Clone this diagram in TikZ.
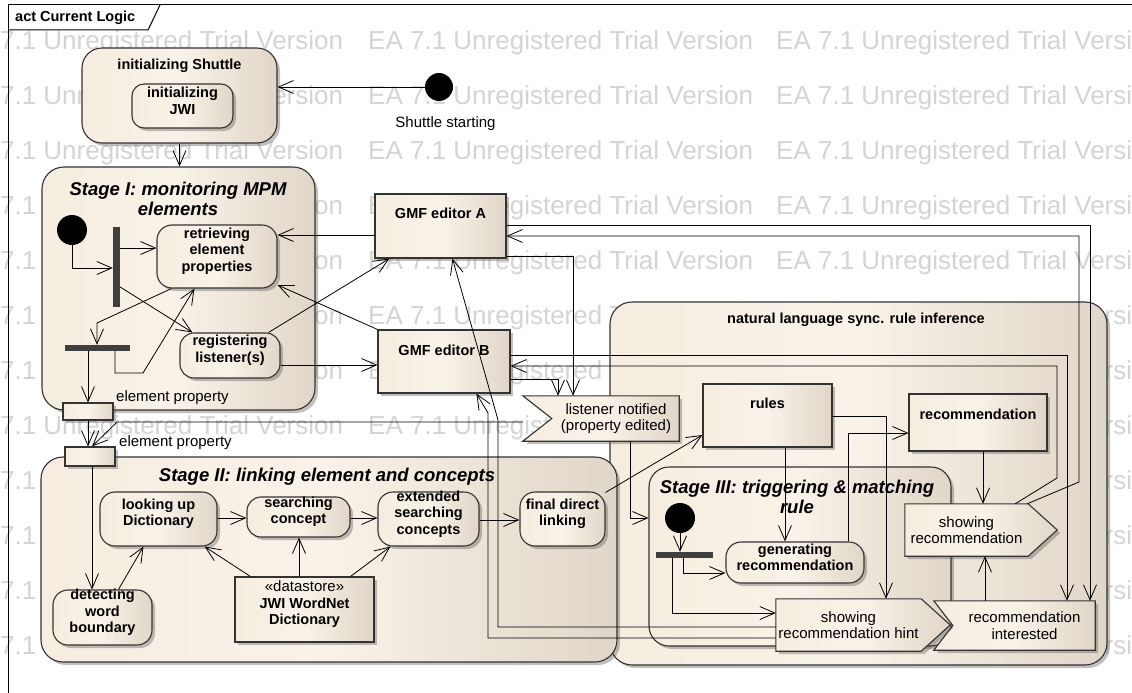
\documentclass[tikz,border=0pt]{standalone}
\usepackage{fontspec}
\setmainfont{Liberation Sans}
\usetikzlibrary{arrows.meta,shadows,calc,fit}
\definecolor{fillL}{HTML}{F6EDE0}
\definecolor{fillM}{HTML}{F9F2E8}
\definecolor{fillR}{HTML}{E0D6C8}
\definecolor{wmc}{HTML}{D4D4D4}
\definecolor{barc}{HTML}{3F3F3F}
\definecolor{edgec}{HTML}{333333}
\newcommand\myFB{\fontsize{14.5}{16.5}\selectfont\bfseries}
\newcommand\myFR{\fontsize{15}{16.5}\selectfont\mdseries}
\newcommand\myFT{\fontsize{18.5}{20.5}\selectfont\bfseries\itshape}
\newcommand\myFW{\fontsize{26}{30}\selectfont}
\tikzset{
  shd/.style={drop shadow={shadow xshift=3pt,shadow yshift=-3pt,opacity=0.35,fill=black!70}},
  grad/.style={left color=fillL,right color=fillR,middle color=fillM},
  ebox/.style={draw=edgec,line width=1.1pt,grad,shd,inner sep=0pt},
  act/.style={ebox,rounded corners=#1,align=center,font=\myFB},
  act/.default=14pt,
  obj/.style={ebox,align=center,font=\myFB},
  anch/.style={inner sep=0pt,draw=none},
  sig/.style={draw=edgec,line width=1.1pt,grad,shd},
  barn/.style={fill=barc,draw=none,inner sep=0pt},
  initnode/.style={circle,fill=black,draw=none,inner sep=0pt,minimum size=#1},
  ttl/.style={font=\myFB,inner sep=0pt},
  regt/.style={font=\myFR,inner sep=0pt,align=center},
  stt/.style={font=\myFT,inner sep=0pt,align=center},
  arr/.style={draw=black,line width=0.8pt,-{Straight Barb[length=15pt,width=13pt]}},
  wmk/.style={font=\myFW,text=wmc,anchor=west,inner sep=0pt},
}
\begin{document}
\begin{tikzpicture}[x=1pt,y=-1pt]
\useasboundingbox (0,0) rectangle (1132,693);
\clip (0,0) rectangle (1132,693);
\fill[white] (0,0) rectangle (1132,693);
% watermark
\foreach \r in {0,...,11}{
  \foreach \c/\xx in {0/-42,1/368,2/776}{
    \node[wmk,name=wm-\r-\c] at (\xx,{43+55*\r}) {EA 7.1 Unregistered Trial Version};
  }
}
% frame
\draw[line width=1pt] (8,693) -- (8,5) -- (1132,5);
\draw[line width=1pt] (8,30) -- (148,30) -- (160,5);
\node[ttl,anchor=west] (hdr) at (15,18) {act Current Logic};

% containers
\node[act=20pt,fit={(82,48)(277,143)}] (initS) {};
\node[ttl] (initSt) at (179.5,66) {initializing Shuttle};
\node[act=12pt,fit={(132,84)(233,128)}] (initJ) {initializing\\JWI};
\node[initnode=28pt] (s0) at (439,87) {};
\node[regt] (s0l) at (445.5,124) {Shuttle starting};

\node[act=22pt,fit={(42,167)(315,410)}] (st1) {};
\node[stt] (st1t) at (178,199) {Stage I: monitoring MPM\\elements};
\node[act=22pt,fit={(610,302)(1107,665)}] (nl) {};
\node[ttl] (nlt) at (856,320) {natural language sync. rule inference};
\node[act=22pt,fit={(41,457)(617,662)}] (st2) {};
\node[stt] (st2t) at (327,477) {Stage II: linking element and concepts};
\node[act=20pt,fit={(649,467)(951,646)}] (st3) {};
\node[stt] (st3t) at (797,497) {Stage III: triggering \& matching\\rule};

% stage I
\node[act=15pt,fit={(157,225)(277,288)}] (retr) {retrieving\\element\\properties};
\node[act=14pt,fit={(180,333)(280,378)}] (reg) {registering\\listener(s)};
\node[barn,fit={(113,227)(120,307)}] (f1) {};
\node[barn,fit={(65,345)(130,351)}] (j1) {};
\node[initnode=30pt] (s1) at (72,230) {};
\node[obj,fit={(63,403)(113,420)}] (pin1) {};
\node[regt,anchor=west] (pin1l) at (116,398) {element property};
\node[obj,fit={(65,447)(115,466)}] (pin2) {};
\node[regt,anchor=west] (pin2l) at (119,443) {element property};

% GMF editors
\node[obj,fit={(375,194)(506,258)}] (gmfA) {};
\node[ttl] (gmfAt) at (440.5,213) {GMF editor A};
\node[obj,fit={(378,330)(510,393)}] (gmfB) {};
\node[ttl] (gmfBt) at (444,350) {GMF editor B};

% stage II
\node[act=15pt,fit={(100,492)(217,546)}] (look) {looking up\\Dictionary};
\node[act=14pt,fit={(247,497)(350,537)}] (srch) {searching\\concept};
\node[act=15pt,fit={(378,492)(479,546)}] (ext) {extended\\searching\\concepts};
\node[act=15pt,fit={(520,492)(605,546)}] (final) {final direct\\linking};
\node[act=15pt,fit={(53,590)(152,645)}] (det) {detecting\\word\\boundary};
\node[obj,fit={(235,577)(374,642)}] (ds) {{\myFR «datastore»}\\JWI WordNet\\Dictionary};

% nat lang
\node[obj,fit={(703,384)(832,447)}] (rules) {};
\node[ttl] (rulest) at (767.5,403) {rules};
\node[obj,fit={(909,394)(1047,451)}] (rec) {};
\node[ttl] (rect) at (978,414) {recommendation};
\node[act=15pt,fit={(726,542)(864,583)}] (gen) {generating\\recommendation};
\node[initnode=30pt] (s3) at (680,518) {};
\node[barn,fit={(656,552)(713,558)}] (f3) {};

% listener notified (receive event)
\node[anch,fit={(523,396)(679,441)}] (lis) {};
\path[sig] (lis.north west) -- (lis.north east) -- (lis.south east) -- (lis.south west) -- ($(lis.west)+(29,0)$) -- cycle;
\node[regt] (list) at ($(lis.center)+(15,0)$) {listener notified\\(property edited)};

% showing recommendation (send signal)
\node[anch,fit={(905,504)(1028,556)}] (showR) {};
\path[sig] (showR.north west) -- (showR.north east) -- ($(showR.east)+(29,0)$) -- (showR.south east) -- (showR.south west) -- cycle;
\node[regt] (showRt) at (showR.center) {showing\\recommendation};

% recommendation interested (receive event)
\node[anch,fit={(934,601)(1095,650)}] (recI) {};
\path[sig] (recI.north west) -- (recI.north east) -- (recI.south east) -- (recI.south west) -- ($(recI.west)+(19,0)$) -- cycle;
\node[regt] (recIt) at ($(recI.center)+(10,0)$) {recommendation\\interested};

% showing recommendation hint (send signal)
\node[anch,fit={(776,599)(921,651)}] (hint) {};
\path[sig] (hint.north west) -- (hint.north east) -- ($(hint.east)+(29,0)$) -- (hint.south east) -- (hint.south west) -- cycle;
\node[regt] (hintt) at (hint.center) {showing\\recommendation hint};

% ---------- connectors ----------
\draw[arr] (s0.west) -- (s0.west -| initS.east);
\draw[arr] (initS.south) -- (initS.south |- st1.north);
% stage I
\draw[arr] (s1.south) |- (f1.west |- 0,268);
\draw[arr] (f1.east |- 0,248) -- (retr.west |- 0,248);
\draw[arr] (f1.east |- 0,287) -- ($(reg.north west)+(13,0)$);
\draw[arr] ($(retr.south west)+(15,0)$) -- (97,323) -- (j1.north -| 97,0);
\draw[arr] (j1.south -| 115,0) |- (143,373) -- ($(retr.south west)+(38,0)$);
\draw[arr] (pin1.north |- j1.south) -- (pin1.north);
\draw[arr] (pin1.south) -- (pin1.south |- pin2.north);
\draw[arr] (lis.west |- 0,422) -- (117,422) -- ($(pin2.north)+(2,0)$);
\draw[arr] ($(reg.north east)+(-12,0)$) -- ($(gmfA.south west)+(15,0)$);
\draw[arr] (reg.east |- 0,365) -- (gmfB.west |- 0,365);
\draw[arr] (gmfB.north west) -- (retr.east |- 0,285);
\draw[arr] (gmfA.west |- 0,235) -- (retr.east |- 0,235);
% GMF editors
\draw[arr] (gmfA.east |- 0,256) -| (lis.north -| 573,0);
\draw[arr] (gmfB.east |- 0,379) -| (lis.north -| 558,0);
\draw[arr] (gmfA.east |- 0,225) -| (recI.north -| 1090,0);
\draw[arr] ($(showR.north east)+(-1,0)$) -- (1079,482) |- (gmfA.east |- 0,236);
\draw[arr] (gmfB.east |- 0,355) -| (recI.north -| 1067,0);
\draw[arr] ($(showR.north east)+(-13,0)$) -- (1057,478) |- (gmfB.east |- 0,366);
\draw[arr] (hint.west |- 0,627) -| (498,420) -- ($(gmfA.south west)+(78,0)$);
\draw[arr] (hint.west |- 0,638) -| (488,413) -- ($(gmfB.south west)+(99,0)$);
% nat lang
\draw[arr] (lis.south -| 630,0) |- (st3.west |- 0,518);
\draw[arr] ($(final.north east)+(0,1)$) -- (rules.west |- 0,435);
\draw[arr] (rules.south -| 785,0) -- (gen.north -| 785,0);
\draw[arr] (rules.east |- 0,416) -| (hint.north -| 886,0);
\draw[arr] (gen.north -| 848,0) |- (rec.west |- 0,433);
\draw[arr] (rec.south -| 983,0) -- (showR.north -| 983,0);
\draw[arr] (recI.north -| 985,0) -- (showR.south -| 985,0);
\draw[arr] (s3.south) -- (f3.north -| s3.south);
\draw[arr] (f3.south -| 683,0) |- (gen.west |- 0,573);
\draw[arr] (f3.south -| 672,0) |- (hint.west |- 0,613);
% stage II
\draw[arr] (pin2.south -| 92,0) -- (det.north -| 92,0);
\draw[arr] ($(det.north west)+(66,0)$) -- ($(look.south west)+(44,0)$);
\draw[arr] (look.east |- 0,518) -- (srch.west |- 0,518);
\draw[arr] (srch.east |- 0,518) -- (ext.west |- 0,518);
\draw[arr] (ext.east |- 0,520) -- (final.west |- 0,520);
\draw[arr] ($(ds.north west)+(16,0)$) -- ($(look.south east)+(-13,0)$);
\draw[arr] (ds.north -| 299,0) -- (srch.south -| 299,0);
\draw[arr] ($(ds.north east)+(-24,0)$) -- ($(ext.south west)+(13,0)$);
\end{tikzpicture}
\end{document}
